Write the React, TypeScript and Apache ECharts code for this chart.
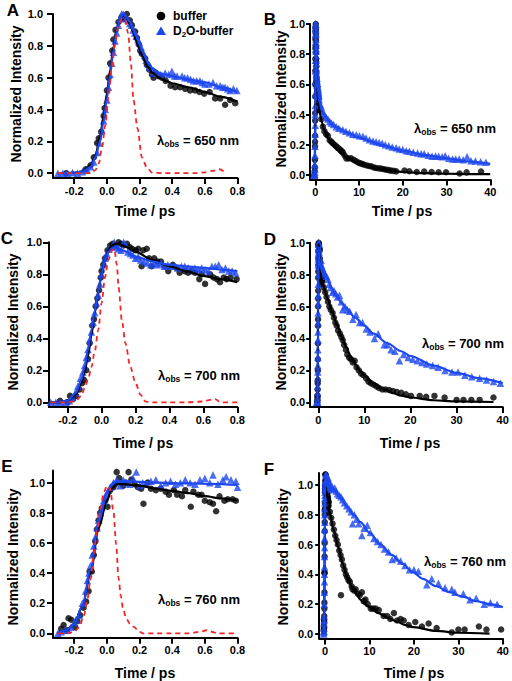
import React, { useEffect, useRef } from 'react';
import * as echarts from 'echarts';

const FONT = "'Liberation Sans', Arial, Helvetica, sans-serif";
const BLUE = '#1d47ef';
const RED = '#f52525';

// ---------- tick values ----------
const fastTicks = [-0.2, 0, 0.2, 0.4, 0.6, 0.8];
const slowTicks = [0, 10, 20, 30, 40];
const yTicks = [0, 0.2, 0.4, 0.6, 0.8, 1.0];

// ---------- 650 nm ----------
const aBuffer = [[-0.25,0.0],[-0.13,0.025],[-0.1,0.05],[-0.08,0.1],[-0.06,0.19],[-0.05,0.22],[-0.035,0.26],[-0.02,0.36],[-0.014,0.41],[0.0,0.52],[0.01,0.6],[0.02,0.69],[0.033,0.77],[0.04,0.84],[0.053,0.9],[0.071,0.95],[0.09,0.98],[0.106,0.97],[0.122,1.0],[0.14,0.96],[0.153,0.93],[0.173,0.89],[0.184,0.85],[0.195,0.81],[0.204,0.77],[0.214,0.75],[0.235,0.72],[0.245,0.68],[0.26,0.65],[0.276,0.62],[0.286,0.6],[0.3,0.63],[0.317,0.61],[0.337,0.6],[0.36,0.58],[0.39,0.55],[0.418,0.54],[0.449,0.54],[0.48,0.53],[0.51,0.52],[0.54,0.52],[0.567,0.51],[0.596,0.5],[0.629,0.51],[0.663,0.47],[0.694,0.47],[0.724,0.43],[0.755,0.46],[0.786,0.44]];
const aD2O = [[-0.3,0.0],[-0.27,0.0],[-0.24,0.0],[-0.21,0.005],[-0.18,0.0],[-0.15,0.01],[-0.12,0.02],[-0.1,0.04],[-0.08,0.07],[-0.06,0.13],[-0.045,0.19],[-0.03,0.27],[-0.02,0.33],[-0.01,0.4],[0.0,0.46],[0.01,0.54],[0.02,0.62],[0.03,0.69],[0.04,0.76],[0.05,0.83],[0.06,0.88],[0.07,0.93],[0.08,0.97],[0.09,1.0],[0.1,1.0],[0.11,0.99],[0.12,0.97],[0.13,0.96],[0.14,0.94],[0.15,0.93],[0.16,0.9],[0.17,0.88],[0.18,0.86],[0.19,0.84],[0.2,0.82],[0.21,0.79],[0.22,0.76],[0.23,0.74],[0.24,0.71],[0.25,0.69],[0.26,0.67],[0.27,0.66],[0.286,0.63],[0.307,0.63],[0.327,0.62],[0.357,0.63],[0.378,0.62],[0.398,0.64],[0.415,0.61],[0.43,0.61],[0.46,0.61],[0.477,0.6],[0.494,0.6],[0.512,0.59],[0.53,0.58],[0.55,0.58],[0.57,0.58],[0.585,0.57],[0.6,0.56],[0.625,0.56],[0.65,0.57],[0.672,0.55],[0.694,0.55],[0.71,0.54],[0.724,0.54],[0.74,0.53],[0.755,0.52],[0.775,0.53],[0.796,0.52]];
const aFitBuffer = [[-0.3,0],[-0.2,0.003],[-0.15,0.012],[-0.1,0.05],[-0.07,0.11],[-0.04,0.24],[-0.02,0.36],[0.0,0.5],[0.02,0.65],[0.04,0.79],[0.06,0.9],[0.08,0.97],[0.1,0.99],[0.12,0.98],[0.14,0.94],[0.16,0.89],[0.18,0.83],[0.2,0.78],[0.22,0.73],[0.25,0.67],[0.28,0.63],[0.32,0.6],[0.36,0.58],[0.4,0.565],[0.5,0.54],[0.6,0.51],[0.7,0.48],[0.8,0.45]];
const aFitD2O = [[-0.3,0],[-0.2,0.003],[-0.15,0.01],[-0.1,0.04],[-0.07,0.1],[-0.04,0.21],[-0.02,0.33],[0.0,0.47],[0.02,0.62],[0.04,0.77],[0.06,0.89],[0.08,0.97],[0.1,1.0],[0.12,0.98],[0.14,0.95],[0.16,0.9],[0.18,0.86],[0.2,0.81],[0.22,0.76],[0.25,0.7],[0.28,0.66],[0.32,0.63],[0.36,0.62],[0.4,0.61],[0.5,0.59],[0.6,0.57],[0.7,0.54],[0.8,0.51]];
const aIRF = [[-0.3,0],[-0.2,0.0],[-0.1,0.0],[-0.07,0.02],[-0.05,0.06],[-0.03,0.16],[-0.01,0.3],[0.01,0.48],[0.03,0.66],[0.05,0.82],[0.07,0.92],[0.09,0.97],[0.11,0.97],[0.13,0.88],[0.147,0.69],[0.163,0.46],[0.188,0.28],[0.214,0.1],[0.245,0.036],[0.276,0.004],[0.35,0.0],[0.45,0.0],[0.55,0.0],[0.6,0.005],[0.65,0.015],[0.69,0.025],[0.73,0.0]];
const bBufferLate = [[1.0,0.43],[1.4,0.37],[1.75,0.32],[2.1,0.29],[2.5,0.27],[2.9,0.26],[3.3,0.23],[3.7,0.22],[4.0,0.21],[4.4,0.2],[4.8,0.19],[5.2,0.18],[5.6,0.17],[6.0,0.16],[6.3,0.15],[6.7,0.13],[7.1,0.11],[7.6,0.11],[8.2,0.11],[8.8,0.1],[9.4,0.09],[10.0,0.08],[10.5,0.075],[11.0,0.07],[11.6,0.064],[12.2,0.06],[12.8,0.057],[13.4,0.05],[13.9,0.046],[14.5,0.044],[15.1,0.042],[15.7,0.038],[16.2,0.035],[16.8,0.032],[17.3,0.029],[17.9,0.027],[18.5,0.024],[20.4,0.03],[21.5,0.025],[23.2,0.02],[24.9,0.022],[26.6,0.02],[28.2,0.018],[29.9,0.018],[33.0,0.01],[34.6,0.017],[37.9,0.022]];
const bD2OLate = [[0.9,0.5],[1.1,0.47],[1.4,0.45],[1.7,0.42],[2.1,0.4],[2.5,0.38],[2.9,0.37],[3.3,0.355],[3.7,0.345],[4.2,0.335],[4.8,0.32],[5.4,0.31],[6.3,0.3],[7.0,0.29],[7.8,0.28],[8.6,0.27],[9.4,0.267],[10.1,0.26],[10.9,0.256],[11.6,0.245],[12.4,0.234],[13.2,0.225],[13.9,0.22],[14.6,0.215],[15.3,0.21],[16.0,0.2],[16.8,0.194],[17.6,0.185],[18.5,0.18],[19.2,0.172],[20.0,0.168],[20.8,0.16],[21.5,0.157],[22.4,0.15],[23.4,0.146],[24.2,0.14],[24.9,0.14],[25.8,0.13],[26.7,0.124],[27.5,0.126],[28.2,0.124],[29.0,0.12],[29.7,0.128],[30.5,0.11],[31.4,0.106],[32.1,0.105],[32.9,0.106],[33.8,0.1],[34.7,0.12],[35.6,0.095],[36.6,0.093],[37.8,0.088],[39.0,0.084]];
const bFitBufferLate = [[1,0.42],[1.5,0.35],[2,0.3],[3,0.24],[4,0.2],[5,0.165],[6,0.14],[8,0.1],[10,0.075],[12,0.056],[15,0.038],[20,0.02],[25,0.012],[30,0.008],[35,0.006],[40,0.005]];
const bFitD2OLate = [[1,0.48],[1.5,0.43],[2,0.4],[3,0.36],[4,0.335],[5,0.315],[7,0.285],[10,0.25],[12.5,0.225],[15,0.2],[20,0.162],[25,0.133],[30,0.11],[35,0.09],[40,0.073]];

// ---------- 700 nm ----------
const cBuffer = [[-0.245,0.01],[-0.2,0.0],[-0.186,0.04],[-0.17,0.02],[-0.15,0.04],[-0.13,0.08],[-0.115,0.12],[-0.104,0.14],[-0.09,0.2],[-0.08,0.27],[-0.07,0.37],[-0.055,0.48],[-0.045,0.52],[-0.035,0.6],[-0.025,0.65],[-0.015,0.7],[-0.005,0.78],[0.0,0.82],[0.01,0.86],[0.02,0.9],[0.035,0.95],[0.05,0.98],[0.065,0.99],[0.08,0.98],[0.1,1.0],[0.115,0.99],[0.13,0.98],[0.15,0.99],[0.165,0.97],[0.18,0.96],[0.2,0.95],[0.216,0.96],[0.236,0.85],[0.245,0.95],[0.266,0.96],[0.28,0.9],[0.295,0.85],[0.31,0.9],[0.33,0.88],[0.35,0.88],[0.37,0.85],[0.393,0.82],[0.42,0.86],[0.44,0.84],[0.46,0.81],[0.49,0.82],[0.51,0.81],[0.53,0.82],[0.55,0.81],[0.576,0.77],[0.59,0.8],[0.61,0.74],[0.64,0.8],[0.66,0.78],[0.68,0.77],[0.698,0.75],[0.72,0.78],[0.737,0.77],[0.76,0.78],[0.796,0.77]];
const cD2O = [[-0.3,0.0],[-0.27,0.0],[-0.24,0.0],[-0.21,0.0],[-0.19,0.01],[-0.17,0.03],[-0.155,0.06],[-0.14,0.1],[-0.125,0.15],[-0.11,0.19],[-0.1,0.23],[-0.09,0.28],[-0.08,0.33],[-0.07,0.39],[-0.06,0.44],[-0.05,0.5],[-0.04,0.56],[-0.03,0.62],[-0.02,0.67],[-0.01,0.74],[0.0,0.8],[0.01,0.86],[0.02,0.9],[0.03,0.93],[0.045,0.96],[0.06,0.97],[0.075,1.0],[0.09,0.97],[0.1,0.96],[0.115,0.95],[0.13,1.0],[0.14,0.99],[0.155,0.94],[0.17,0.93],[0.185,0.92],[0.2,0.9],[0.215,0.91],[0.23,0.89],[0.25,0.88],[0.27,0.87],[0.29,0.86],[0.31,0.87],[0.33,0.86],[0.35,0.87],[0.37,0.85],[0.39,0.86],[0.41,0.85],[0.43,0.85],[0.45,0.84],[0.47,0.85],[0.49,0.85],[0.51,0.84],[0.53,0.83],[0.55,0.84],[0.57,0.83],[0.59,0.84],[0.61,0.83],[0.63,0.82],[0.65,0.85],[0.67,0.85],[0.69,0.86],[0.71,0.83],[0.73,0.84],[0.75,0.82],[0.77,0.82],[0.79,0.81]];
const cFitBuffer = [[-0.3,0],[-0.25,0.0],[-0.2,0.01],[-0.15,0.05],[-0.12,0.12],[-0.1,0.19],[-0.08,0.29],[-0.06,0.42],[-0.04,0.56],[-0.02,0.69],[0.0,0.8],[0.02,0.89],[0.04,0.95],[0.06,0.98],[0.08,0.99],[0.1,0.99],[0.15,0.97],[0.2,0.94],[0.3,0.89],[0.4,0.85],[0.5,0.82],[0.6,0.79],[0.7,0.77],[0.8,0.75]];
const cFitD2O = [[-0.3,0],[-0.25,0.0],[-0.2,0.01],[-0.15,0.06],[-0.12,0.14],[-0.1,0.22],[-0.08,0.33],[-0.06,0.45],[-0.04,0.57],[-0.02,0.69],[0.0,0.8],[0.02,0.89],[0.04,0.94],[0.06,0.96],[0.08,0.97],[0.1,0.96],[0.15,0.94],[0.2,0.91],[0.3,0.88],[0.4,0.86],[0.5,0.85],[0.6,0.84],[0.7,0.83],[0.8,0.82]];
const cIRF = [[-0.3,0],[-0.25,0.0],[-0.2,0.0],[-0.15,0.01],[-0.12,0.04],[-0.1,0.09],[-0.08,0.14],[-0.06,0.22],[-0.04,0.32],[-0.02,0.45],[0.0,0.62],[0.02,0.78],[0.04,0.89],[0.06,0.95],[0.075,0.96],[0.09,0.86],[0.1,0.72],[0.12,0.51],[0.14,0.37],[0.17,0.22],[0.2,0.12],[0.23,0.046],[0.26,0.004],[0.3,0.0],[0.4,0.0],[0.5,0.0],[0.6,0.005],[0.64,0.015],[0.67,0.02],[0.7,0.0],[0.8,0.0]];
const dBufferLate = [[0.9,0.76],[1.2,0.72],[1.5,0.69],[1.8,0.66],[2.1,0.63],[2.4,0.6],[2.7,0.58],[3.1,0.56],[3.4,0.53],[3.7,0.5],[4.0,0.48],[4.3,0.45],[4.7,0.43],[5.0,0.41],[5.3,0.39],[5.6,0.36],[6.0,0.33],[6.3,0.3],[6.7,0.28],[7.1,0.27],[7.5,0.25],[7.9,0.26],[8.3,0.22],[8.8,0.2],[9.3,0.18],[9.8,0.17],[10.4,0.15],[10.9,0.13],[11.4,0.12],[12.0,0.11],[12.6,0.1],[13.2,0.09],[13.9,0.08],[14.6,0.08],[15.4,0.077],[16.2,0.07],[17.0,0.065],[18.0,0.06],[19.0,0.05],[20.1,0.04],[22.0,0.04],[23.4,0.035],[25.2,0.04],[27.4,0.03],[30.0,0.015],[31.5,0.015],[33.2,0.015],[35.0,0.015],[38.0,0.03]];
const dD2OLate = [[0.6,0.89],[0.9,0.84],[1.2,0.82],[1.5,0.8],[1.8,0.79],[2.1,0.77],[2.4,0.74],[2.7,0.72],[3.1,0.69],[3.4,0.7],[3.8,0.68],[4.2,0.66],[4.6,0.67],[5.0,0.63],[5.3,0.58],[5.8,0.6],[6.3,0.58],[6.8,0.57],[7.5,0.52],[8.2,0.55],[9.0,0.5],[9.6,0.5],[10.4,0.46],[11.2,0.44],[12.2,0.4],[13.0,0.43],[14.3,0.36],[15.0,0.36],[15.8,0.33],[16.6,0.32],[17.6,0.26],[18.5,0.3],[19.5,0.28],[20.5,0.27],[21.5,0.26],[22.5,0.25],[23.5,0.24],[24.8,0.23],[26.0,0.22],[27.5,0.2],[29.0,0.19],[30.3,0.19],[31.8,0.17],[33.3,0.16],[35.0,0.15],[36.5,0.14],[38.0,0.13],[39.5,0.12]];
const dFitBufferLate = [[1,0.74],[2,0.65],[3,0.57],[4,0.49],[5,0.42],[6,0.35],[7,0.29],[8,0.24],[9,0.2],[10,0.17],[12,0.12],[14,0.085],[16,0.06],[18,0.042],[20,0.03],[25,0.013],[30,0.006],[38,0.002]];
const dFitD2OLate = [[1,0.84],[2,0.77],[3,0.71],[4,0.665],[5,0.625],[6,0.59],[8,0.53],[10,0.48],[12,0.43],[15,0.37],[18,0.32],[20,0.29],[25,0.23],[30,0.185],[35,0.15],[40,0.12]];

// ---------- 760 nm ----------
const eBuffer = [[-0.28,0.03],[-0.265,0.055],[-0.245,0.02],[-0.235,0.1],[-0.218,0.09],[-0.194,0.04],[-0.18,0.08],[-0.163,0.12],[-0.143,0.17],[-0.127,0.21],[-0.112,0.28],[-0.106,0.41],[-0.092,0.41],[-0.08,0.52],[-0.071,0.61],[-0.061,0.69],[-0.051,0.75],[-0.041,0.8],[-0.031,0.83],[-0.01,0.88],[0.004,0.84],[0.02,0.95],[0.04,0.97],[0.05,0.99],[0.06,1.07],[0.075,1.03],[0.09,1.0],[0.1,0.98],[0.115,1.0],[0.133,1.07],[0.15,1.02],[0.17,0.99],[0.19,0.97],[0.21,0.96],[0.224,0.86],[0.25,1.0],[0.27,0.96],[0.3,0.95],[0.33,0.96],[0.36,0.94],[0.38,0.92],[0.41,0.95],[0.43,0.92],[0.46,0.91],[0.48,0.95],[0.514,0.84],[0.53,0.94],[0.56,0.92],[0.58,0.92],[0.6,0.88],[0.63,0.87],[0.65,0.86],[0.669,0.81],[0.69,0.91],[0.72,0.88],[0.74,0.89],[0.77,0.89],[0.79,0.88]];
const eD2O = [[-0.3,0.0],[-0.28,0.01],[-0.26,0.02],[-0.24,0.02],[-0.22,0.04],[-0.2,0.07],[-0.19,0.09],[-0.17,0.12],[-0.15,0.2],[-0.13,0.28],[-0.12,0.35],[-0.11,0.4],[-0.1,0.45],[-0.09,0.52],[-0.08,0.58],[-0.07,0.64],[-0.06,0.7],[-0.05,0.75],[-0.04,0.8],[-0.03,0.84],[-0.02,0.88],[-0.01,0.91],[0.0,0.93],[0.01,0.95],[0.02,0.97],[0.04,1.0],[0.06,1.02],[0.08,0.98],[0.1,1.02],[0.12,1.0],[0.14,0.99],[0.16,1.03],[0.18,1.07],[0.2,0.98],[0.22,1.0],[0.24,0.99],[0.27,1.01],[0.3,1.02],[0.33,0.98],[0.36,1.0],[0.39,1.01],[0.42,0.99],[0.45,1.0],[0.48,1.02],[0.51,1.0],[0.54,0.99],[0.57,1.02],[0.6,1.03],[0.63,1.0],[0.65,1.05],[0.68,0.99],[0.71,1.02],[0.73,1.04],[0.76,1.02],[0.79,1.01],[0.8,0.97]];
const eFitBuffer = [[-0.3,0.0],[-0.25,0.02],[-0.2,0.06],[-0.15,0.18],[-0.1,0.4],[-0.05,0.7],[0.0,0.88],[0.03,0.96],[0.06,0.99],[0.1,0.99],[0.2,0.98],[0.3,0.96],[0.4,0.945],[0.5,0.93],[0.6,0.91],[0.7,0.895],[0.8,0.88]];
const eFitD2O = [[-0.3,0.0],[-0.25,0.02],[-0.2,0.06],[-0.15,0.18],[-0.1,0.42],[-0.05,0.74],[0.0,0.93],[0.03,0.99],[0.06,1.01],[0.1,1.01],[0.3,1.0],[0.5,0.995],[0.8,0.985]];
const eIRF = [[-0.3,0],[-0.25,0.0],[-0.2,0.01],[-0.17,0.04],[-0.14,0.12],[-0.12,0.22],[-0.1,0.36],[-0.08,0.52],[-0.06,0.68],[-0.04,0.82],[-0.02,0.93],[0.0,0.98],[0.02,0.96],[0.04,0.81],[0.057,0.59],[0.071,0.37],[0.085,0.25],[0.098,0.17],[0.118,0.1],[0.14,0.065],[0.163,0.044],[0.2,0.01],[0.22,0.0],[0.3,0.0],[0.4,0.0],[0.5,0.0],[0.57,0.01],[0.61,0.02],[0.64,0.01],[0.68,0.0],[0.8,0.0]];
const fBufferLate = [[0.5,0.89],[0.8,0.86],[1.1,0.82],[1.4,0.78],[1.7,0.74],[2.0,0.7],[2.3,0.66],[2.6,0.63],[2.9,0.6],[3.2,0.56],[3.5,0.53],[3.6,0.26],[3.8,0.5],[4.1,0.46],[4.4,0.43],[4.7,0.4],[5.0,0.38],[5.3,0.36],[5.6,0.35],[6.0,0.32],[6.2,0.3],[6.6,0.29],[6.9,0.3],[7.4,0.27],[7.8,0.26],[8.3,0.28],[8.7,0.22],[9.1,0.23],[9.6,0.2],[10.3,0.17],[10.8,0.17],[11.4,0.17],[12.1,0.16],[13.2,0.12],[14.0,0.12],[14.7,0.1],[15.5,0.14],[16.2,0.09],[17.0,0.1],[17.7,0.09],[18.8,0.06],[20.3,0.08],[21.8,0.05],[23.3,0.07],[25.1,0.04],[28.5,0.01],[30.0,0.03],[31.4,0.03],[34.6,0.05],[36.3,0.03],[39.6,0.03]];
const fD2OLate = [[0.3,1.07],[0.5,1.04],[0.7,1.02],[0.9,1.0],[1.1,1.01],[1.3,0.98],[1.6,0.99],[1.9,0.97],[2.2,0.98],[2.5,0.96],[2.8,0.94],[3.2,0.93],[3.6,0.92],[4.0,0.9],[4.4,0.88],[4.9,0.86],[5.4,0.84],[5.9,0.82],[6.2,0.74],[6.6,0.8],[7.1,0.77],[7.6,0.74],[8.3,0.66],[8.8,0.71],[9.5,0.73],[10.2,0.68],[11.0,0.64],[11.8,0.62],[12.6,0.6],[13.4,0.57],[14.3,0.55],[15.1,0.5],[16.0,0.51],[17.0,0.49],[18.0,0.46],[19.0,0.43],[20.0,0.43],[21.0,0.42],[22.9,0.33],[24.0,0.37],[25.5,0.34],[27.0,0.31],[28.5,0.3],[29.2,0.28],[31.1,0.27],[32.6,0.23],[34.0,0.24],[35.8,0.2],[37.2,0.21],[38.7,0.2]];
const fFitBufferLate = [[1,0.82],[2,0.69],[3,0.58],[4,0.47],[5,0.38],[6,0.32],[7,0.27],[8,0.23],[9,0.2],[10,0.18],[12,0.14],[14,0.11],[16,0.085],[18,0.06],[20,0.045],[25,0.02],[30,0.008],[37,0.002]];
const fFitD2OLate = [[1,1.0],[2,0.97],[3,0.93],[4,0.89],[5,0.85],[6.5,0.8],[8,0.75],[10,0.68],[12.5,0.6],[15,0.53],[17.5,0.47],[19.5,0.42],[22,0.37],[25,0.32],[28,0.28],[31,0.25],[34,0.22],[37,0.2],[40,0.18]];

type Panel = {
  grid: { left: number; top: number; width: number; height: number };
  x: [number, number];
  y: [number, number];
  xTicks: number[];
  xDigits: number;
  yMargin: number;
  yTickLen: number;
  buffer: number[][];
  d2o: number[][];
  fitBuffer: number[][];
  fitD2O: number[][];
  irf?: number[][];
};

const panels: Panel[] = [
  { grid: { left: 53, top: 14, width: 184.5, height: 164 }, x: [-0.33, 0.8], y: [-0.03, 1.0], xTicks: fastTicks, xDigits: 1, yMargin: 10, yTickLen: 6,
    buffer: aBuffer, d2o: aD2O, fitBuffer: aFitBuffer, fitD2O: aFitD2O, irf: aIRF },
  { grid: { left: 310, top: 24, width: 180.25, height: 155.5 }, x: [-1.2, 40], y: [-0.03, 1.0], xTicks: slowTicks, xDigits: 0, yMargin: 5, yTickLen: 4,
    buffer: [...aBuffer, ...bBufferLate], d2o: [...aD2O, ...bD2OLate], fitBuffer: [...aFitBuffer, ...bFitBufferLate], fitD2O: [...aFitD2O, ...bFitD2OLate] },
  { grid: { left: 49, top: 242.3, width: 188.3, height: 164.8 }, x: [-0.31, 0.8], y: [-0.03, 1.0], xTicks: fastTicks, xDigits: 1, yMargin: 7, yTickLen: 6,
    buffer: cBuffer, d2o: cD2O, fitBuffer: cFitBuffer, fitD2O: cFitD2O, irf: cIRF },
  { grid: { left: 310.2, top: 242.7, width: 192.5, height: 164.4 }, x: [-1.75, 40], y: [-0.03, 1.0], xTicks: slowTicks, xDigits: 0, yMargin: 5, yTickLen: 4,
    buffer: [...cBuffer, ...dBufferLate], d2o: [...cD2O, ...dD2OLate], fitBuffer: [...cFitBuffer, ...dFitBufferLate], fitD2O: [...cFitD2O, ...dFitD2OLate] },
  { grid: { left: 53, top: 470.6, width: 184.5, height: 167.2 }, x: [-0.33, 0.8], y: [-0.03, 1.08], xTicks: fastTicks, xDigits: 1, yMargin: 8, yTickLen: 6,
    buffer: eBuffer, d2o: eD2O, fitBuffer: eFitBuffer, fitD2O: eFitD2O, irf: eIRF },
  { grid: { left: 319.2, top: 473, width: 185, height: 165.4 }, x: [-1.3, 40], y: [-0.03, 1.08], xTicks: slowTicks, xDigits: 0, yMargin: 6, yTickLen: 4,
    buffer: [...eBuffer, ...fBufferLate], d2o: [...eD2O, ...fD2OLate], fitBuffer: [...eFitBuffer, ...fFitBufferLate], fitD2O: [...eFitD2O, ...fFitD2OLate] },
];

const letters = [
  { t: 'A', x: 13, y: 10 }, { t: 'B', x: 270, y: 19 }, { t: 'C', x: 7, y: 238 },
  { t: 'D', x: 270, y: 239 }, { t: 'E', x: 7, y: 466 }, { t: 'F', x: 269, y: 469 },
];
const yTitles = [[15.5, 94], [281, 99], [13, 322], [281, 322], [13, 557], [283, 557]];
const xTitles = [[145, 211], [402, 211], [143, 443], [410, 443], [145, 673], [414, 673]];
const lambdas = [
  { w: '650', x: 157, y: 140 }, { w: '650', x: 414, y: 128 }, { w: '700', x: 158, y: 375 },
  { w: '700', x: 422, y: 343 }, { w: '760', x: 158, y: 599 }, { w: '760', x: 424, y: 561 },
];

export default function App() {
  const ref = useRef<HTMLDivElement>(null);
  useEffect(() => {
    if (!ref.current) return;
    const chart = echarts.init(ref.current, undefined, { renderer: 'svg' });
    const grids: any[] = [];
    const xAxes: any[] = [];
    const yAxes: any[] = [];
    const series: any[] = [];
    panels.forEach((p, i) => {
      grids.push({ ...p.grid, containLabel: false });
      xAxes.push({
        type: 'value', gridIndex: i, min: p.x[0], max: p.x[1],
        axisLine: { show: true, onZero: false, lineStyle: { color: '#000', width: 2 } },
        axisTick: { show: true, inside: false, length: 6, lineStyle: { color: '#000', width: 2 }, customValues: p.xTicks },
        axisLabel: { customValues: p.xTicks, formatter: (v: number) => v.toFixed(p.xDigits), fontSize: 11, fontWeight: 'bold', color: '#000', fontFamily: FONT, margin: 7 },
        splitLine: { show: false },
      });
      yAxes.push({
        type: 'value', gridIndex: i, min: p.y[0], max: p.y[1],
        axisLine: { show: true, onZero: false, lineStyle: { color: '#000', width: 2 } },
        axisTick: { show: true, inside: false, length: p.yTickLen, lineStyle: { color: '#000', width: 2 }, customValues: yTicks },
        axisLabel: { customValues: yTicks, formatter: (v: number) => v.toFixed(1), fontSize: 11, fontWeight: 'bold', color: '#000', fontFamily: FONT, margin: p.yMargin },
        splitLine: { show: false },
      });
      const common = { xAxisIndex: i, yAxisIndex: i, silent: true };
      series.push({ ...common, type: 'scatter', data: p.buffer, symbol: 'circle', symbolSize: 6.5, itemStyle: { color: '#000' } });
      series.push({ ...common, type: 'scatter', data: p.d2o, symbol: 'triangle', symbolSize: 7.5, itemStyle: { color: BLUE } });
      series.push({ ...common, type: 'line', data: p.fitBuffer, showSymbol: false, smooth: 0.3, smoothMonotone: 'x', lineStyle: { color: '#000', width: 2.2 } });
      series.push({ ...common, type: 'line', data: p.fitD2O, showSymbol: false, smooth: 0.3, smoothMonotone: 'x', lineStyle: { color: BLUE, width: 2.2 } });
      if (p.irf) {
        series.push({ ...common, type: 'line', data: p.irf, showSymbol: false, smooth: 0.3, smoothMonotone: 'x', lineStyle: { color: RED, width: 1.8, type: [5, 4] } });
      }
    });

    const graphics: any[] = [];
    letters.forEach((l) => graphics.push({ type: 'text', x: l.x, y: l.y, style: { text: l.t, fontSize: 17, fontWeight: 'bold', fontFamily: FONT, fill: '#000', align: 'center', verticalAlign: 'middle' } }));
    yTitles.forEach(([x, y]) => graphics.push({ type: 'text', x, y, rotation: Math.PI / 2, style: { text: 'Normalized Intensity', fontSize: 14, fontWeight: 'bold', fontFamily: FONT, fill: '#000', align: 'center', verticalAlign: 'middle' } }));
    xTitles.forEach(([x, y]) => graphics.push({ type: 'text', x, y, style: { text: 'Time / ps', fontSize: 14, fontWeight: 'bold', fontFamily: FONT, fill: '#000', align: 'center', verticalAlign: 'middle' } }));
    lambdas.forEach((l) => graphics.push({
      type: 'text', x: l.x, y: l.y,
      style: {
        text: `{a|λ}{b|obs}{a| = ${l.w} nm}`, fill: '#000', align: 'left', verticalAlign: 'middle',
        rich: {
          a: { fontSize: 13, fontWeight: 'bold', fontFamily: FONT, fill: '#000', lineHeight: 16 },
          b: { fontSize: 8.5, fontWeight: 'bold', fontFamily: FONT, fill: '#000', lineHeight: 9, verticalAlign: 'bottom' },
        },
      },
    }));
    // legend
    graphics.push({ type: 'circle', shape: { cx: 161, cy: 16, r: 4.3 }, style: { fill: '#000' } });
    graphics.push({ type: 'polygon', shape: { points: [[161, 26.5], [156, 35], [166, 35]] }, style: { fill: BLUE } });
    graphics.push({ type: 'text', x: 173, y: 16, style: { text: 'buffer', fontSize: 12, fontWeight: 'bold', fontFamily: FONT, fill: '#000', align: 'left', verticalAlign: 'middle' } });
    graphics.push({
      type: 'text', x: 173, y: 31,
      style: {
        text: '{a|D}{b|2}{a|O-buffer}', fill: '#000', align: 'left', verticalAlign: 'middle',
        rich: {
          a: { fontSize: 12, fontWeight: 'bold', fontFamily: FONT, fill: '#000', lineHeight: 15 },
          b: { fontSize: 8, fontWeight: 'bold', fontFamily: FONT, fill: '#000', lineHeight: 9, verticalAlign: 'bottom' },
        },
      },
    });

    chart.setOption({
      animation: false,
      backgroundColor: '#fff',
      grid: grids,
      xAxis: xAxes,
      yAxis: yAxes,
      series,
      graphic: graphics,
    });
    return () => chart.dispose();
  }, []);
  return <div ref={ref} style={{ position: 'absolute', left: 0, top: 0, width: 512, height: 681 }} />;
}
